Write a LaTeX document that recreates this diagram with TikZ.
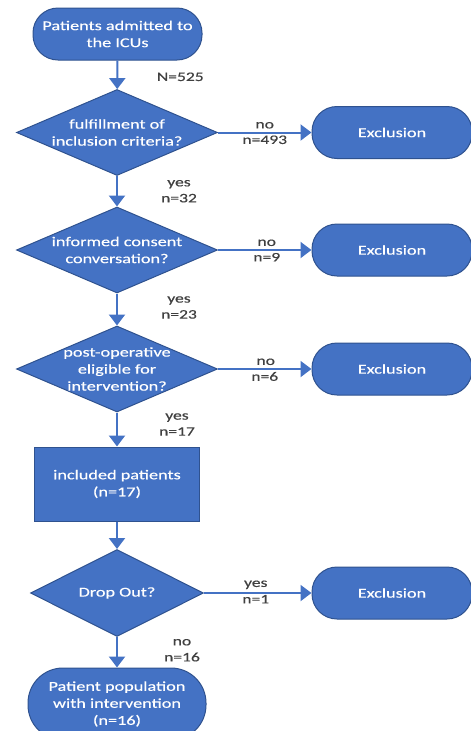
\documentclass[tikz,border=0pt]{standalone}
\usepackage{fontspec}
\setmainfont[FakeStretch=1.35,FakeBold=0.4]{Carlito}
\usetikzlibrary{shapes.geometric,arrows.meta}
\definecolor{boxfill}{HTML}{4472C4}
\definecolor{boxline}{HTML}{2F528F}
\definecolor{flowline}{HTML}{4472C4}
\definecolor{labeltext}{HTML}{404040}
\newcommand\boxfont{\fontsize{13.5}{17}\selectfont}
\newcommand\lblfont{\fontsize{13}{16}\selectfont}
\tikzset{
  terminal/.style={rectangle, rounded corners=25pt, draw=boxline, fill=boxfill,
                   line width=1pt, text=white, align=center, font=\boxfont,
                   inner sep=0pt, minimum width=#1, minimum height=52pt},
  terminal/.default=160pt,
  procbox/.style={rectangle, draw=boxline, fill=boxfill, line width=1pt,
                  text=white, align=center, font=\boxfont,
                  minimum width=165pt, minimum height=74pt},
  decision/.style={diamond, draw=boxline, fill=boxfill, line width=1pt,
                   inner sep=0pt, minimum width=201pt, minimum height=86pt},
  dectext/.style={text=white, align=center, font=\boxfont},
  flow/.style={draw=flowline, line width=2pt,
               -{Triangle[width=16pt,length=11pt]}},
  lbl/.style={text=labeltext, align=center, font=\lblfont},
  lblup/.style={lbl, above, inner sep=1pt, yshift=2pt},
  lbldown/.style={lbl, below, inner sep=1pt, yshift=-1pt},
}
\begin{document}
\begin{tikzpicture}[x=1pt, y=-1pt]
    \useasboundingbox (0,0) rectangle (471,731);
    % main column
    \node[terminal=169pt] (admit) at (117.5,34) {Patients admitted to\\the ICUs};
    \node[decision, label={[dectext]center:fulfillment of\\inclusion criteria?}] (crit) at (117,132.5) {};
    \node[decision, label={[dectext]center:informed consent\\conversation?}] (consent) at (117,250) {};
    \node[decision, label={[dectext]center:post-operative\\eligible for\\intervention?}] (elig) at (117,369) {};
    \node[procbox] (incl) at (117,484) {included patients\\(n=17)};
    \node[decision, minimum width=173pt, minimum height=87pt,
          label={[dectext]center:Drop Out?}] (drop) at (117,593) {};
    \node[terminal=178pt, minimum height=72pt, rounded corners=35pt] (final) at (117,704) {Patient population\\with intervention\\(n=16)};
    % exclusions
    \node[terminal] (exc1) at (392,132.5) {Exclusion};
    \node[terminal] (exc2) at (392,250) {Exclusion};
    \node[terminal] (exc3) at (392,369) {Exclusion};
    \node[terminal] (exc4) at (392,593) {Exclusion};

    \draw[flow] (admit) -- (crit) node[midway, lbl, xshift=63pt, yshift=-2pt] {N=525};
    \draw[flow] (crit) -- (consent) node[midway, lbl, xshift=62pt] {yes\\n=32};
    \draw[flow] (consent) -- (elig) node[midway, lbl, xshift=62pt, yshift=2pt] {yes\\n=23};
    \draw[flow] (elig) -- (incl) node[midway, lbl, xshift=60pt, yshift=5pt] {yes\\n=17};
    \draw[flow] (incl) -- (drop);
    \draw[flow] (drop) -- (final) node[midway, lbl, xshift=65pt, yshift=2pt] {no\\n=16};

    \draw[flow] (crit) -- (exc1) node[midway, lblup] {no} node[midway, lbldown] {n=493};
    \draw[flow] (consent) -- (exc2) node[midway, lblup, xshift=2pt] {no} node[midway, lbldown, xshift=2pt] {n=9};
    \draw[flow] (elig) -- (exc3) node[midway, lblup, xshift=1pt] {no} node[midway, lbldown] {n=6};
    \draw[flow] (drop) -- (exc4) node[midway, lblup, xshift=-2pt] {yes} node[midway, lbldown, xshift=-2pt, yshift=1pt] {n=1};
\end{tikzpicture}
\end{document}
